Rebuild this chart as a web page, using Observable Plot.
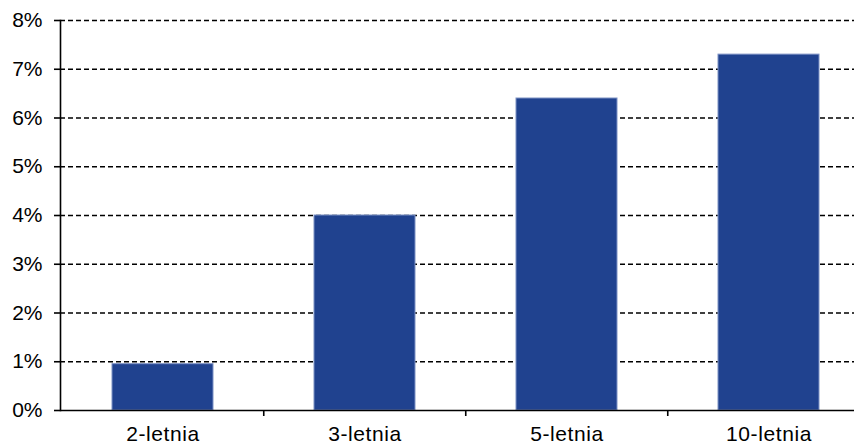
<!DOCTYPE html>
<html>
<head>
<meta charset="utf-8">
<script src="https://cdn.jsdelivr.net/npm/d3@7"></script>
<script src="https://cdn.jsdelivr.net/npm/@observablehq/plot@0.6"></script>
<style>
  html, body { margin: 0; padding: 0; background: #fff; overflow: hidden; }
  #chart svg { display: block; }
  g[aria-label="x-axis tick label"] text { letter-spacing: 0.6px; }
</style>
</head>
<body>
<div id="chart"></div>
<script>
// Bond maturities and their yields (%)
const maturities = ["2-letnia", "3-letnia", "5-letnia", "10-letnia"];
const yields = [0.95, 4.0, 6.4, 7.3];
const yTicks = [0, 1, 2, 3, 4, 5, 6, 7, 8];
const gridLevels = [1, 2, 3, 4, 5, 6, 7, 8];

const rows = maturities.map((m, i) => ({maturity: m, value: yields[i]}));

const W = 856, H = 446;
const left = 60, bandRight = 870;
const step = (bandRight - left) / maturities.length;
const font = "'Liberation Sans', Arial, sans-serif";

const chart = Plot.plot({
  width: W,
  height: H,
  marginLeft: left,
  marginRight: 2,
  marginTop: 20,
  marginBottom: 36,
  style: {
    fontFamily: font,
    fontSize: "21px",
    color: "#000",
    background: "#fff"
  },
  x: {
    type: "band",
    domain: maturities,
    range: [left, bandRight],
    paddingInner: 0.5,
    paddingOuter: 0.25,
    label: null
  },
  y: {domain: [0, 8], label: null},
  marks: [
    Plot.ruleY(gridLevels, {stroke: "#000", strokeWidth: 1.4, strokeDasharray: "5,3"}),
    Plot.barY(rows, {x: "maturity", y: "value", fill: "#20428f", stroke: "#7d91c4", strokeWidth: 1}),
    Plot.frame({anchor: "left", stroke: "#000", strokeWidth: 1.6}),
    Plot.ruleY([0], {stroke: "#000", strokeWidth: 1.6}),
    Plot.axisY({
      ticks: yTicks,
      tickFormat: d => d + "%",
      tickSize: 6,
      tickPadding: 12,
      strokeWidth: 1.6,
      fill: "#000",
      fontSize: 21,
      fontFamily: font
    }),
    // category labels centred under the bars
    Plot.axisX({
      tickSize: 0,
      tickPadding: 16,
      fill: "#000",
      fontSize: 21,
      fontFamily: font
    }),
    // separators between categories
    Plot.axisX({
      ticks: maturities.slice(1),
      tickSize: 6,
      tickFormat: () => "",
      dx: -step / 2,
      strokeWidth: 1.6
    })
  ]
});

document.getElementById("chart").appendChild(chart);
</script>
</body>
</html>
